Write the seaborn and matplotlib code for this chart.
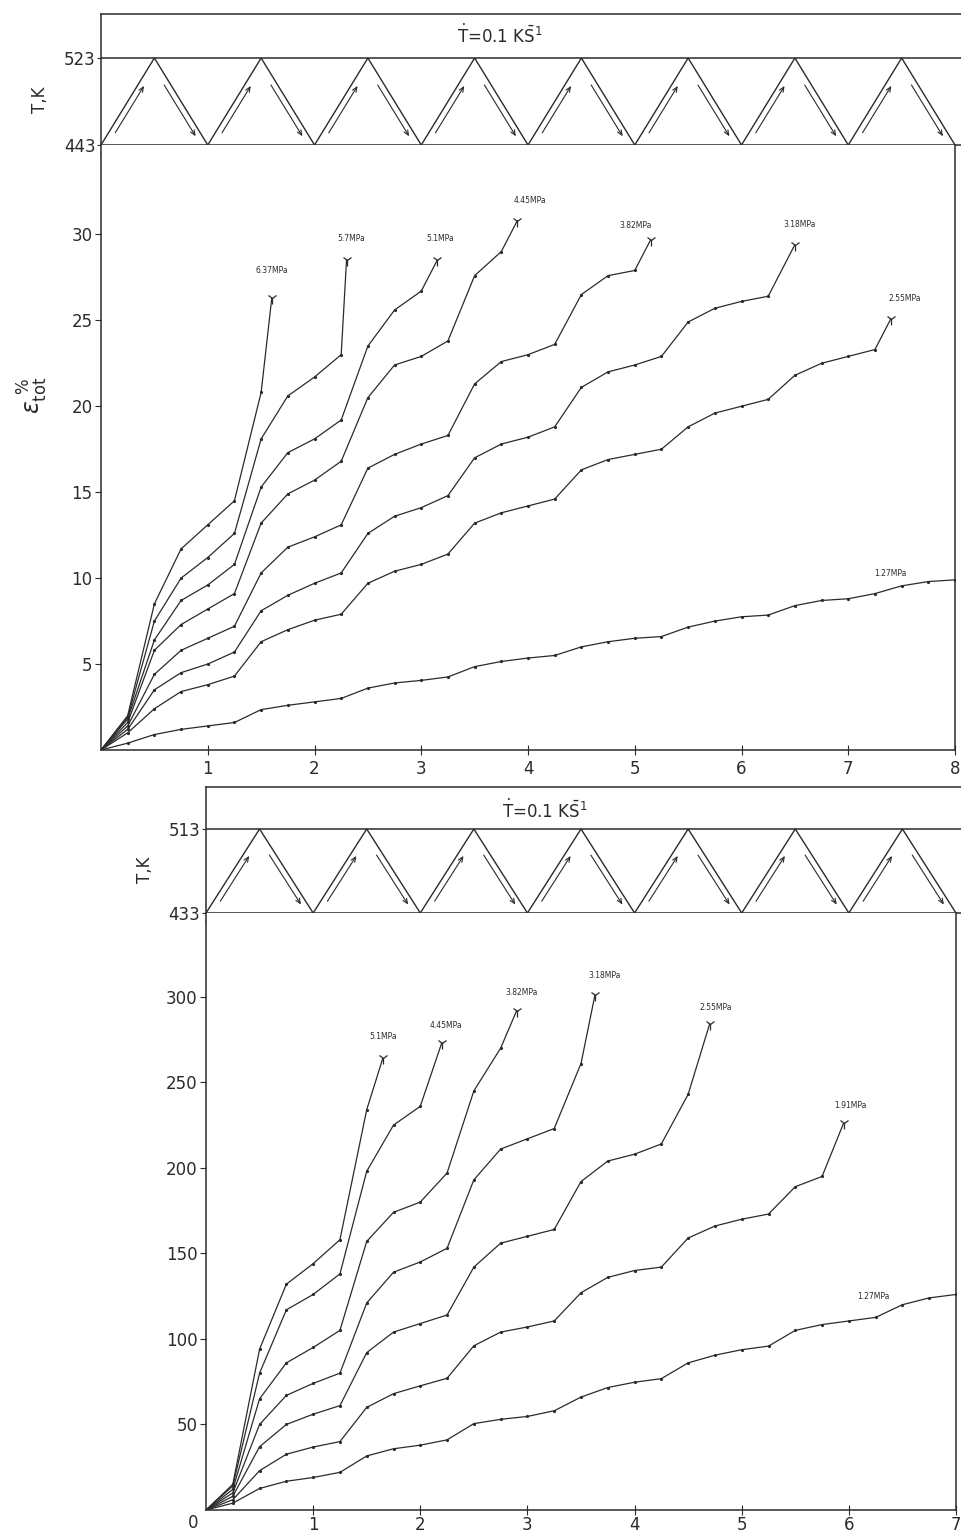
import matplotlib
matplotlib.use('Agg')
import matplotlib.pyplot as plt
import seaborn as sns
import pandas as pd

sns.set_style('ticks')
plt.rcParams['font.family'] = ['DejaVu Sans']
plt.rcParams['mathtext.fontset'] = 'dejavusans'

INK = '#2b2b2b'

# ---------------- data ----------------
# temperature cycling strips
top_cycle_t = [0, 750, 1500, 2250, 3000, 3750, 4500, 5250, 6000, 6750, 7500, 8250, 9000, 9750, 10500, 11250, 12000]
top_cycle_T = [443, 523, 443, 523, 443, 523, 443, 523, 443, 523, 443, 523, 443, 523, 443, 523, 443]
top_t_ticks = [1500, 3000, 4500, 6000, 7500, 9000, 10500]
top_T_ticks = [443, 523]

bot_cycle_t = [0, 750, 1500, 2250, 3000, 3750, 4500, 5250, 6000, 6750, 7500, 8250, 9000, 9750, 10500]
bot_cycle_T = [433, 513, 433, 513, 433, 513, 433, 513, 433, 513, 433, 513, 433, 513, 433]
bot_t_ticks = [1500, 3000, 4500, 6000, 7500, 9000]
bot_T_ticks = [433, 513]

# upper strain panel (eps_tot, %)
top_637_x = [0, 0.25, 0.5, 0.75, 1.0, 1.25, 1.5, 1.6]
top_637_y = [0, 2.0, 8.5, 11.7, 13.1, 14.5, 20.8, 26.3]
top_57_x = [0, 0.25, 0.5, 0.75, 1.0, 1.25, 1.5, 1.75, 2.0, 2.25, 2.3]
top_57_y = [0, 1.9, 7.5, 10.0, 11.2, 12.6, 18.1, 20.6, 21.7, 23.0, 28.5]
top_51_x = [0, 0.25, 0.5, 0.75, 1.0, 1.25, 1.5, 1.75, 2.0, 2.25, 2.5, 2.75, 3.0, 3.15]
top_51_y = [0, 1.8, 6.4, 8.7, 9.6, 10.8, 15.3, 17.3, 18.1, 19.2, 23.5, 25.6, 26.7, 28.5]
top_445_x = [0, 0.25, 0.5, 0.75, 1.0, 1.25, 1.5, 1.75, 2.0, 2.25, 2.5, 2.75, 3.0, 3.25, 3.5, 3.75, 3.9]
top_445_y = [0, 1.6, 5.8, 7.3, 8.2, 9.1, 13.2, 14.9, 15.7, 16.8, 20.5, 22.4, 22.9, 23.8, 27.6, 29.0, 30.8]
top_382_x = [0, 0.25, 0.5, 0.75, 1.0, 1.25, 1.5, 1.75, 2.0, 2.25, 2.5, 2.75, 3.0, 3.25, 3.5, 3.75, 4.0, 4.25, 4.5, 4.75, 5.0, 5.15]
top_382_y = [0, 1.4, 4.4, 5.8, 6.5, 7.2, 10.3, 11.8, 12.4, 13.1, 16.4, 17.2, 17.8, 18.3, 21.3, 22.6, 23.0, 23.6, 26.5, 27.6, 27.9, 29.7]
top_318_x = [0, 0.25, 0.5, 0.75, 1.0, 1.25, 1.5, 1.75, 2.0, 2.25, 2.5, 2.75, 3.0, 3.25, 3.5, 3.75, 4.0, 4.25, 4.5, 4.75, 5.0, 5.25, 5.5, 5.75, 6.0, 6.25, 6.5]
top_318_y = [0, 1.2, 3.5, 4.5, 5.0, 5.7, 8.1, 9.0, 9.7, 10.3, 12.6, 13.6, 14.1, 14.8, 17.0, 17.8, 18.2, 18.8, 21.1, 22.0, 22.4, 22.9, 24.9, 25.7, 26.1, 26.4, 29.4]
top_255_x = [0, 0.25, 0.5, 0.75, 1.0, 1.25, 1.5, 1.75, 2.0, 2.25, 2.5, 2.75, 3.0, 3.25, 3.5, 3.75, 4.0, 4.25, 4.5, 4.75, 5.0, 5.25, 5.5, 5.75, 6.0, 6.25, 6.5, 6.75, 7.0, 7.25, 7.4]
top_255_y = [0, 1.0, 2.4, 3.4, 3.8, 4.3, 6.3, 7.0, 7.55, 7.9, 9.7, 10.4, 10.8, 11.4, 13.2, 13.8, 14.2, 14.6, 16.3, 16.9, 17.2, 17.5, 18.8, 19.6, 20.0, 20.4, 21.8, 22.5, 22.9, 23.3, 25.1]
top_127_x = [0, 0.25, 0.5, 0.75, 1.0, 1.25, 1.5, 1.75, 2.0, 2.25, 2.5, 2.75, 3.0, 3.25, 3.5, 3.75, 4.0, 4.25, 4.5, 4.75, 5.0, 5.25, 5.5, 5.75, 6.0, 6.25, 6.5, 6.75, 7.0, 7.25, 7.5, 7.75, 8.0]
top_127_y = [0, 0.4, 0.9, 1.2, 1.4, 1.6, 2.35, 2.6, 2.8, 3.0, 3.6, 3.9, 4.05, 4.25, 4.85, 5.15, 5.35, 5.5, 6.0, 6.3, 6.5, 6.6, 7.15, 7.5, 7.75, 7.85, 8.4, 8.7, 8.8, 9.1, 9.55, 9.8, 9.9]

# lower strain panel
bot_51_x = [0, 0.25, 0.5, 0.75, 1.0, 1.25, 1.5, 1.65]
bot_51_y = [0, 15, 94, 132, 144, 158, 234, 264]
bot_445_x = [0, 0.25, 0.5, 0.75, 1.0, 1.25, 1.5, 1.75, 2.0, 2.2]
bot_445_y = [0, 14, 80, 117, 126, 138, 198, 225, 236, 273]
bot_382_x = [0, 0.25, 0.5, 0.75, 1.0, 1.25, 1.5, 1.75, 2.0, 2.25, 2.5, 2.75, 2.9]
bot_382_y = [0, 12, 65, 86, 95, 105, 157, 174, 180, 197, 245, 270, 292]
bot_318_x = [0, 0.25, 0.5, 0.75, 1.0, 1.25, 1.5, 1.75, 2.0, 2.25, 2.5, 2.75, 3.0, 3.25, 3.5, 3.63]
bot_318_y = [0, 10, 50, 67, 74, 80, 121, 139, 145, 153, 193, 211, 217, 223, 261, 301]
bot_255_x = [0, 0.25, 0.5, 0.75, 1.0, 1.25, 1.5, 1.75, 2.0, 2.25, 2.5, 2.75, 3.0, 3.25, 3.5, 3.75, 4.0, 4.25, 4.5, 4.7]
bot_255_y = [0, 8, 37, 50, 56, 61, 92, 104, 109, 114, 142, 156, 160, 164, 192, 204, 208, 214, 243, 284]
bot_191_x = [0, 0.25, 0.5, 0.75, 1.0, 1.25, 1.5, 1.75, 2.0, 2.25, 2.5, 2.75, 3.0, 3.25, 3.5, 3.75, 4.0, 4.25, 4.5, 4.75, 5.0, 5.25, 5.5, 5.75, 5.95]
bot_191_y = [0, 6, 23, 32.6, 36.8, 40, 60, 68, 72.6, 77, 96, 104, 107, 110.5, 127, 136, 140, 142, 159, 166, 170, 173, 189, 195, 226]
bot_127_x = [0, 0.25, 0.5, 0.75, 1.0, 1.25, 1.5, 1.75, 2.0, 2.25, 2.5, 2.75, 3.0, 3.25, 3.5, 3.75, 4.0, 4.25, 4.5, 4.75, 5.0, 5.25, 5.5, 5.75, 6.0, 6.25, 6.5, 6.75, 7.0]
bot_127_y = [0, 4, 12.6, 16.8, 19, 22, 31.6, 35.8, 37.9, 41, 50.5, 53, 54.7, 58, 66, 71.6, 74.7, 76.8, 86, 90.5, 93.7, 95.8, 105, 108.4, 110.5, 112.6, 120, 124, 126]

top_x_ticks = [1, 2, 3, 4, 5, 6, 7, 8]
top_y_ticks = [5, 10, 15, 20, 25, 30]
bot_x_ticks = [1, 2, 3, 4, 5, 6, 7]
bot_y_ticks = [50, 100, 150, 200, 250, 300]

# (x, y, label, fractured?, label offset in pixels)
top_curves = [
    (top_637_x, top_637_y, '6.37MPa', True, (0, 27)),
    (top_57_x, top_57_y, '5.7MPa', True, (5, 22)),
    (top_51_x, top_51_y, '5.1MPa', True, (3, 22)),
    (top_445_x, top_445_y, '4.45MPa', True, (13, 20)),
    (top_382_x, top_382_y, '3.82MPa', True, (-15, 14)),
    (top_318_x, top_318_y, '3.18MPa', True, (5, 20)),
    (top_255_x, top_255_y, '2.55MPa', True, (14, 20)),
    (top_127_x, top_127_y, '1.27MPa', False, (-65, 6)),
]
bot_curves = [
    (bot_51_x, bot_51_y, '5.1MPa', True, (0, 22)),
    (bot_445_x, bot_445_y, '4.45MPa', True, (4, 18)),
    (bot_382_x, bot_382_y, '3.82MPa', True, (5, 18)),
    (bot_318_x, bot_318_y, '3.18MPa', True, (10, 20)),
    (bot_255_x, bot_255_y, '2.55MPa', True, (6, 17)),
    (bot_191_x, bot_191_y, '1.91MPa', True, (7, 18)),
    (bot_127_x, bot_127_y, '1.27MPa', False, (-83, -2)),
]

W, H = 961, 1537
fig = plt.figure(figsize=(W / 100, H / 100), dpi=100)
fig.patch.set_facecolor('white')


def fax(l, t, r, b):
    return fig.add_axes([l / W, 1 - b / H, (r - l) / W, (b - t) / H])


def strip(ax, ct, cT, tticks, Tticks, xmax, ytop, rate_pos, ts_x):
    df = pd.DataFrame({'t': ct, 'T': cT})
    sns.lineplot(data=df, x='t', y='T', ax=ax, color=INK, lw=1.0,
                 estimator=None, sort=False)
    lo, hi = Tticks
    ax.axhline(hi, color=INK, lw=1.1)
    ax.set_xlim(0, xmax)
    ax.set_ylim(lo, ytop)
    ax.set_xticks(tticks)
    ax.set_xticklabels([str(v) for v in tticks])
    ax.set_yticks(Tticks)
    ax.set_yticklabels([str(v) for v in Tticks])
    ax.tick_params(axis='x', length=0, pad=3, labelsize=12, colors=INK)
    ax.tick_params(axis='y', length=3, pad=1, labelsize=12, colors=INK)
    ax.set_xlabel('')
    ax.set_ylabel('')
    for s in ['top', 'left', 'bottom']:
        ax.spines[s].set_color(INK)
        ax.spines[s].set_linewidth(1.1)
    ax.spines['right'].set_visible(False)
    # heating / cooling arrows inside each triangle
    dt = 95
    for i in range(len(ct) - 1):
        t0, t1, T0, T1 = ct[i], ct[i + 1], cT[i], cT[i + 1]
        if T1 > T0:
            fa, fb, off = 0.14, 0.68, dt
        else:
            fa, fb, off = 0.31, 0.90, -dt
        ta = t0 + fa * (t1 - t0) + off
        tb = t0 + fb * (t1 - t0) + off
        Ta = T0 + fa * (T1 - T0)
        Tb = T0 + fb * (T1 - T0)
        ax.annotate('', xy=(tb, Tb), xytext=(ta, Ta),
                    arrowprops=dict(arrowstyle='->,head_length=0.35,head_width=0.15',
                                    color=INK, lw=0.8, shrinkA=0, shrinkB=0))
    ax.text(rate_pos[0], rate_pos[1], r'$\dot{\mathrm{T}}$=0.1 K$\bar{\mathrm{S}}^{1}$',
            transform=ax.transAxes, ha='center', va='center', fontsize=12, color=INK)
    ax.annotate('t,s', xy=(ts_x, lo), xytext=(0, -15), textcoords='offset pixels',
                ha='center', va='center', fontsize=12, color=INK, annotation_clip=False)
    ax.annotate('//', xy=(0, lo), xytext=(2, -6), textcoords='offset pixels',
                ha='center', va='center', fontsize=7, color=INK, annotation_clip=False)


def strain(ax, curves, xmax, ymax, xticks, yticks, xpad):
    for x, y, lab, frac, off in curves:
        n = len(x)
        marks = list(range(1, n - 1)) if frac else list(range(1, n))
        sns.lineplot(x=x, y=y, ax=ax, color=INK, lw=0.9, estimator=None, sort=False,
                     marker='o', markersize=2.3, markeredgewidth=0, markevery=marks)
        if frac:
            ax.plot([x[-1]], [y[-1]], marker='1', markersize=8, mew=0.9, color=INK,
                    linestyle='none')
        ax.annotate(lab, xy=(x[-1], y[-1]), xytext=off, textcoords='offset pixels',
                    ha='center', va='center', fontsize=5.5, color=INK,
                    annotation_clip=False)
    ax.set_xlim(0, xmax)
    ax.set_ylim(0, ymax)
    ax.set_xticks(xticks)
    ax.set_xticklabels([str(v) for v in xticks])
    ax.set_yticks(yticks)
    ax.set_yticklabels([str(v) for v in yticks])
    ax.tick_params(axis='x', direction='inout', length=7, pad=xpad, labelsize=12, colors=INK)
    ax.tick_params(axis='y', direction='out', length=4, pad=2, labelsize=12, colors=INK)
    ax.spines['top'].set_visible(False)
    for s in ['left', 'bottom', 'right']:
        ax.spines[s].set_color(INK)
        ax.spines[s].set_linewidth(1.1)
    ax.set_xlabel('')
    ax.set_ylabel('')


# ---- upper figure ----
ax_ts = fax(101, 14, 961, 145)
strip(ax_ts, top_cycle_t, top_cycle_T, top_t_ticks, top_T_ticks,
      xmax=12084, ytop=563.5, rate_pos=(0.464, 0.84), ts_x=11719)
ax_tm = fax(101, 145, 955, 750)
strain(ax_tm, top_curves, 8, 35.2, top_x_ticks, top_y_ticks, xpad=4)
fig.text(40 / W, 1 - 100 / H, 'T,K', rotation=90, ha='center', va='center',
         fontsize=12, color=INK)
fig.text(33 / W, 1 - 395 / H, r'$\varepsilon_{\mathrm{tot}}^{\ \%}$', rotation=90,
         ha='center', va='center', fontsize=17, color=INK)

# ---- lower figure ----
ax_bs = fax(206, 787, 961, 913)
strip(ax_bs, bot_cycle_t, bot_cycle_T, bot_t_ticks, bot_T_ticks,
      xmax=10570, ytop=553, rate_pos=(0.449, 0.817), ts_x=9926)
ax_bm = fax(206, 913, 956, 1510)
strain(ax_bm, bot_curves, 7, 349, bot_x_ticks, bot_y_ticks, xpad=1)
ax_bm.annotate('0', xy=(0, 0), xytext=(-13, -13), textcoords='offset pixels',
               ha='center', va='center', fontsize=12, color=INK, annotation_clip=False)
fig.text(145 / W, 1 - 870 / H, 'T,K', rotation=90, ha='center', va='center',
         fontsize=12, color=INK)

fig.savefig('out.png', dpi=100, facecolor='white')
